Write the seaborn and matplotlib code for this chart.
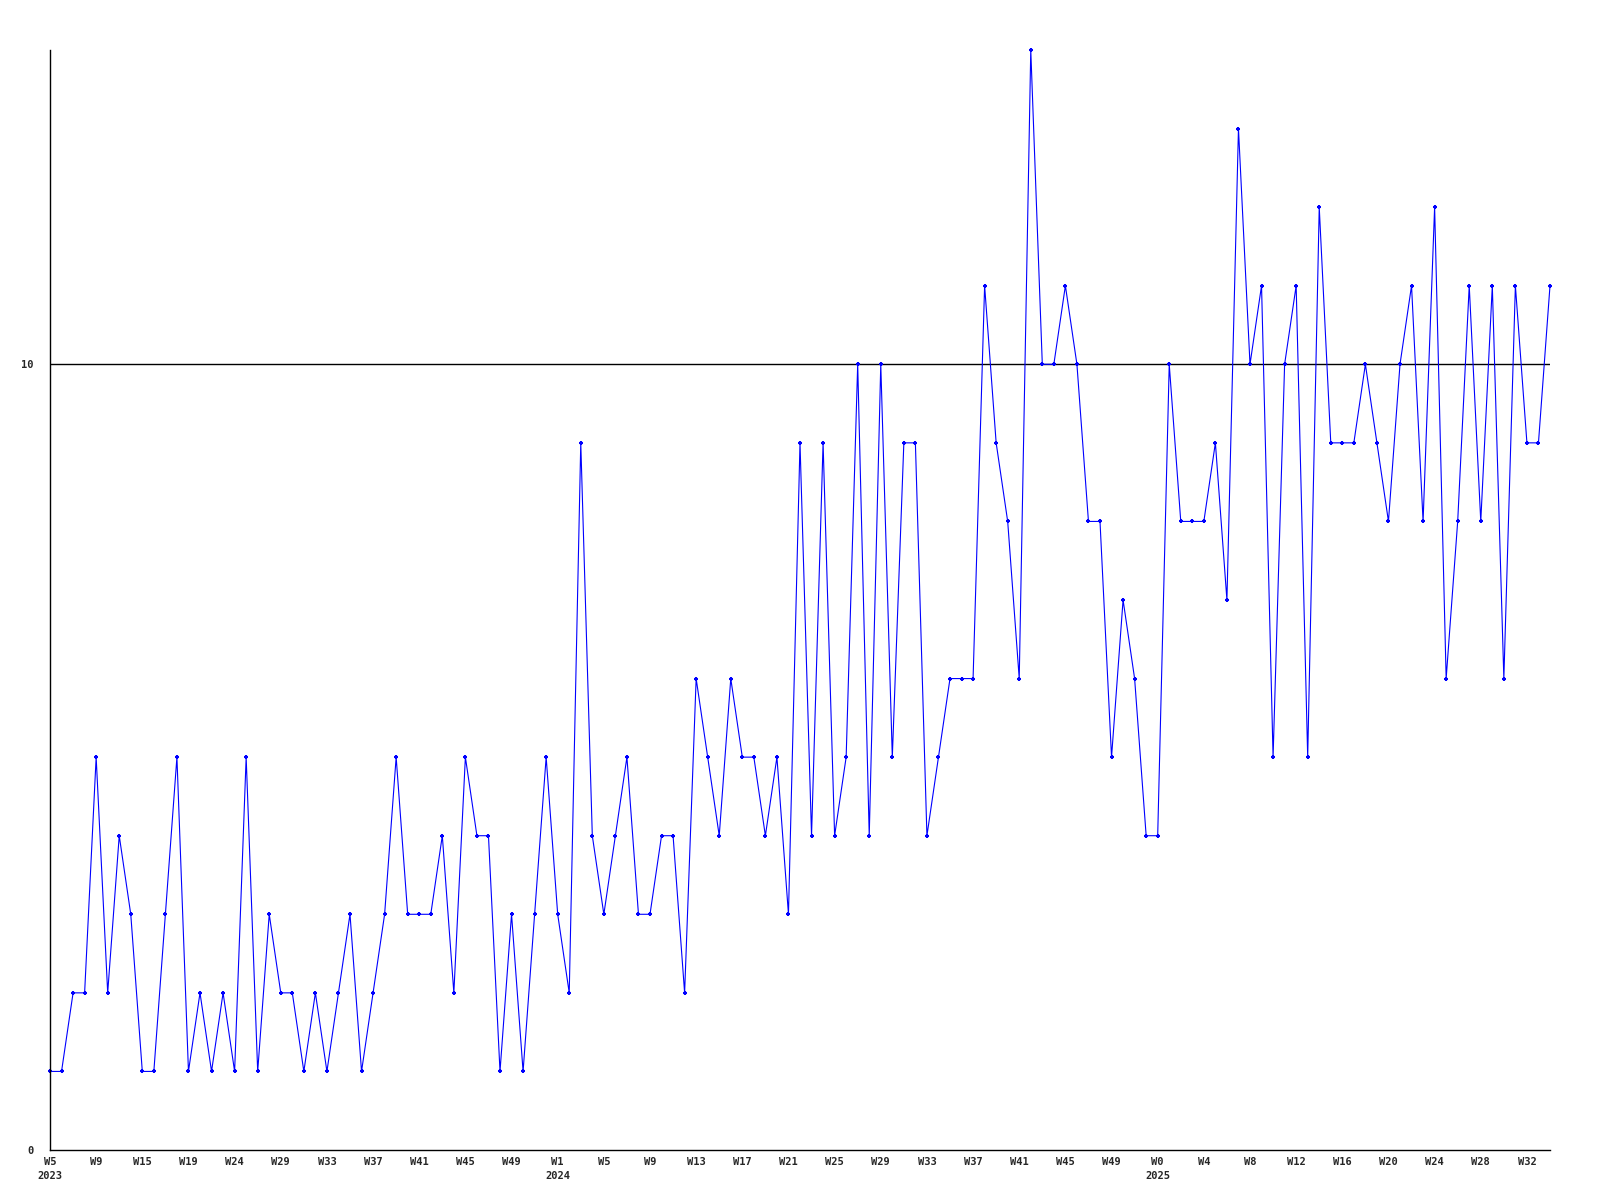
import matplotlib
matplotlib.use("Agg")
import matplotlib.pyplot as plt
import seaborn as sns
import pandas as pd

values = [1, 1, 2, 2, 5, 2, 4, 3, 1, 1, 3, 5, 1, 2, 1, 2, 1, 5, 1, 3,
          2, 2, 1, 2, 1, 2, 3, 1, 2, 3, 5, 3, 3, 3, 4, 2, 5, 4, 4, 1,
          3, 1, 3, 5, 3, 2, 9, 4, 3, 4, 5, 3, 3, 4, 4, 2, 6, 5, 4, 6,
          5, 5, 4, 5, 3, 9, 4, 9, 4, 5, 10, 4, 10, 5, 9, 9, 4, 5, 6, 6,
          6, 11, 9, 8, 6, 14, 10, 10, 11, 10, 8, 8, 5, 7, 6, 4, 4, 10, 8, 8,
          8, 9, 7, 13, 10, 11, 5, 10, 11, 5, 12, 9, 9, 9, 10, 9, 8, 10, 11, 8,
          12, 6, 8, 11, 8, 11, 6, 11, 9, 9, 11]

week_labels = ["W5", "W9", "W15", "W19", "W24", "W29", "W33", "W37", "W41", "W45", "W49",
               "W1", "W5", "W9", "W13", "W17", "W21", "W25", "W29", "W33", "W37", "W41",
               "W45", "W49", "W0", "W4", "W8", "W12", "W16", "W20", "W24", "W28", "W32"]
year_labels = {0: "2023", 11: "2024", 24: "2025"}
y_ticks = [0, 10]

df = pd.DataFrame({"idx": list(range(len(values))), "value": values})

sns.set_style("white")
plt.rcParams["font.family"] = ["DejaVu Sans Mono", "DejaVu Sans"]

fig = plt.figure(figsize=(16, 12), dpi=100)
ax = fig.add_axes([50 / 1600, 50 / 1200, 1500 / 1600, 1100 / 1200])

sns.lineplot(data=df, x="idx", y="value", ax=ax, color="#0000ff", linewidth=0.8,
             marker="+", markersize=3.5, markeredgewidth=1.5, markeredgecolor="#0000ff",
             clip_on=False)

ax.axhline(10, color="black", linewidth=1.0, zorder=1)

ax.set_xlim(0, len(values) - 1)
ax.set_ylim(0, 14)

tick_pos = [i * 4 for i in range(len(week_labels))]
tick_txt = []
for i, w in enumerate(week_labels):
    if i in year_labels:
        tick_txt.append(w + "\n" + year_labels[i])
    else:
        tick_txt.append(w)
ax.set_xticks(tick_pos)
ax.set_xticklabels(tick_txt, fontsize=7.5, fontweight="bold", linespacing=1.45)
ax.set_yticks(y_ticks)
ax.set_yticklabels([str(t) for t in y_ticks], fontsize=7.5, fontweight="bold")
ax.tick_params(axis="x", length=0, pad=5)
ax.tick_params(axis="y", length=0, pad=12)

for s in ["top", "right"]:
    ax.spines[s].set_visible(False)
for s in ["left", "bottom"]:
    ax.spines[s].set_color("black")
    ax.spines[s].set_linewidth(1.0)

ax.set_xlabel("")
ax.set_ylabel("")
ax.grid(False)

fig.savefig("out.png", dpi=100, facecolor="white")
